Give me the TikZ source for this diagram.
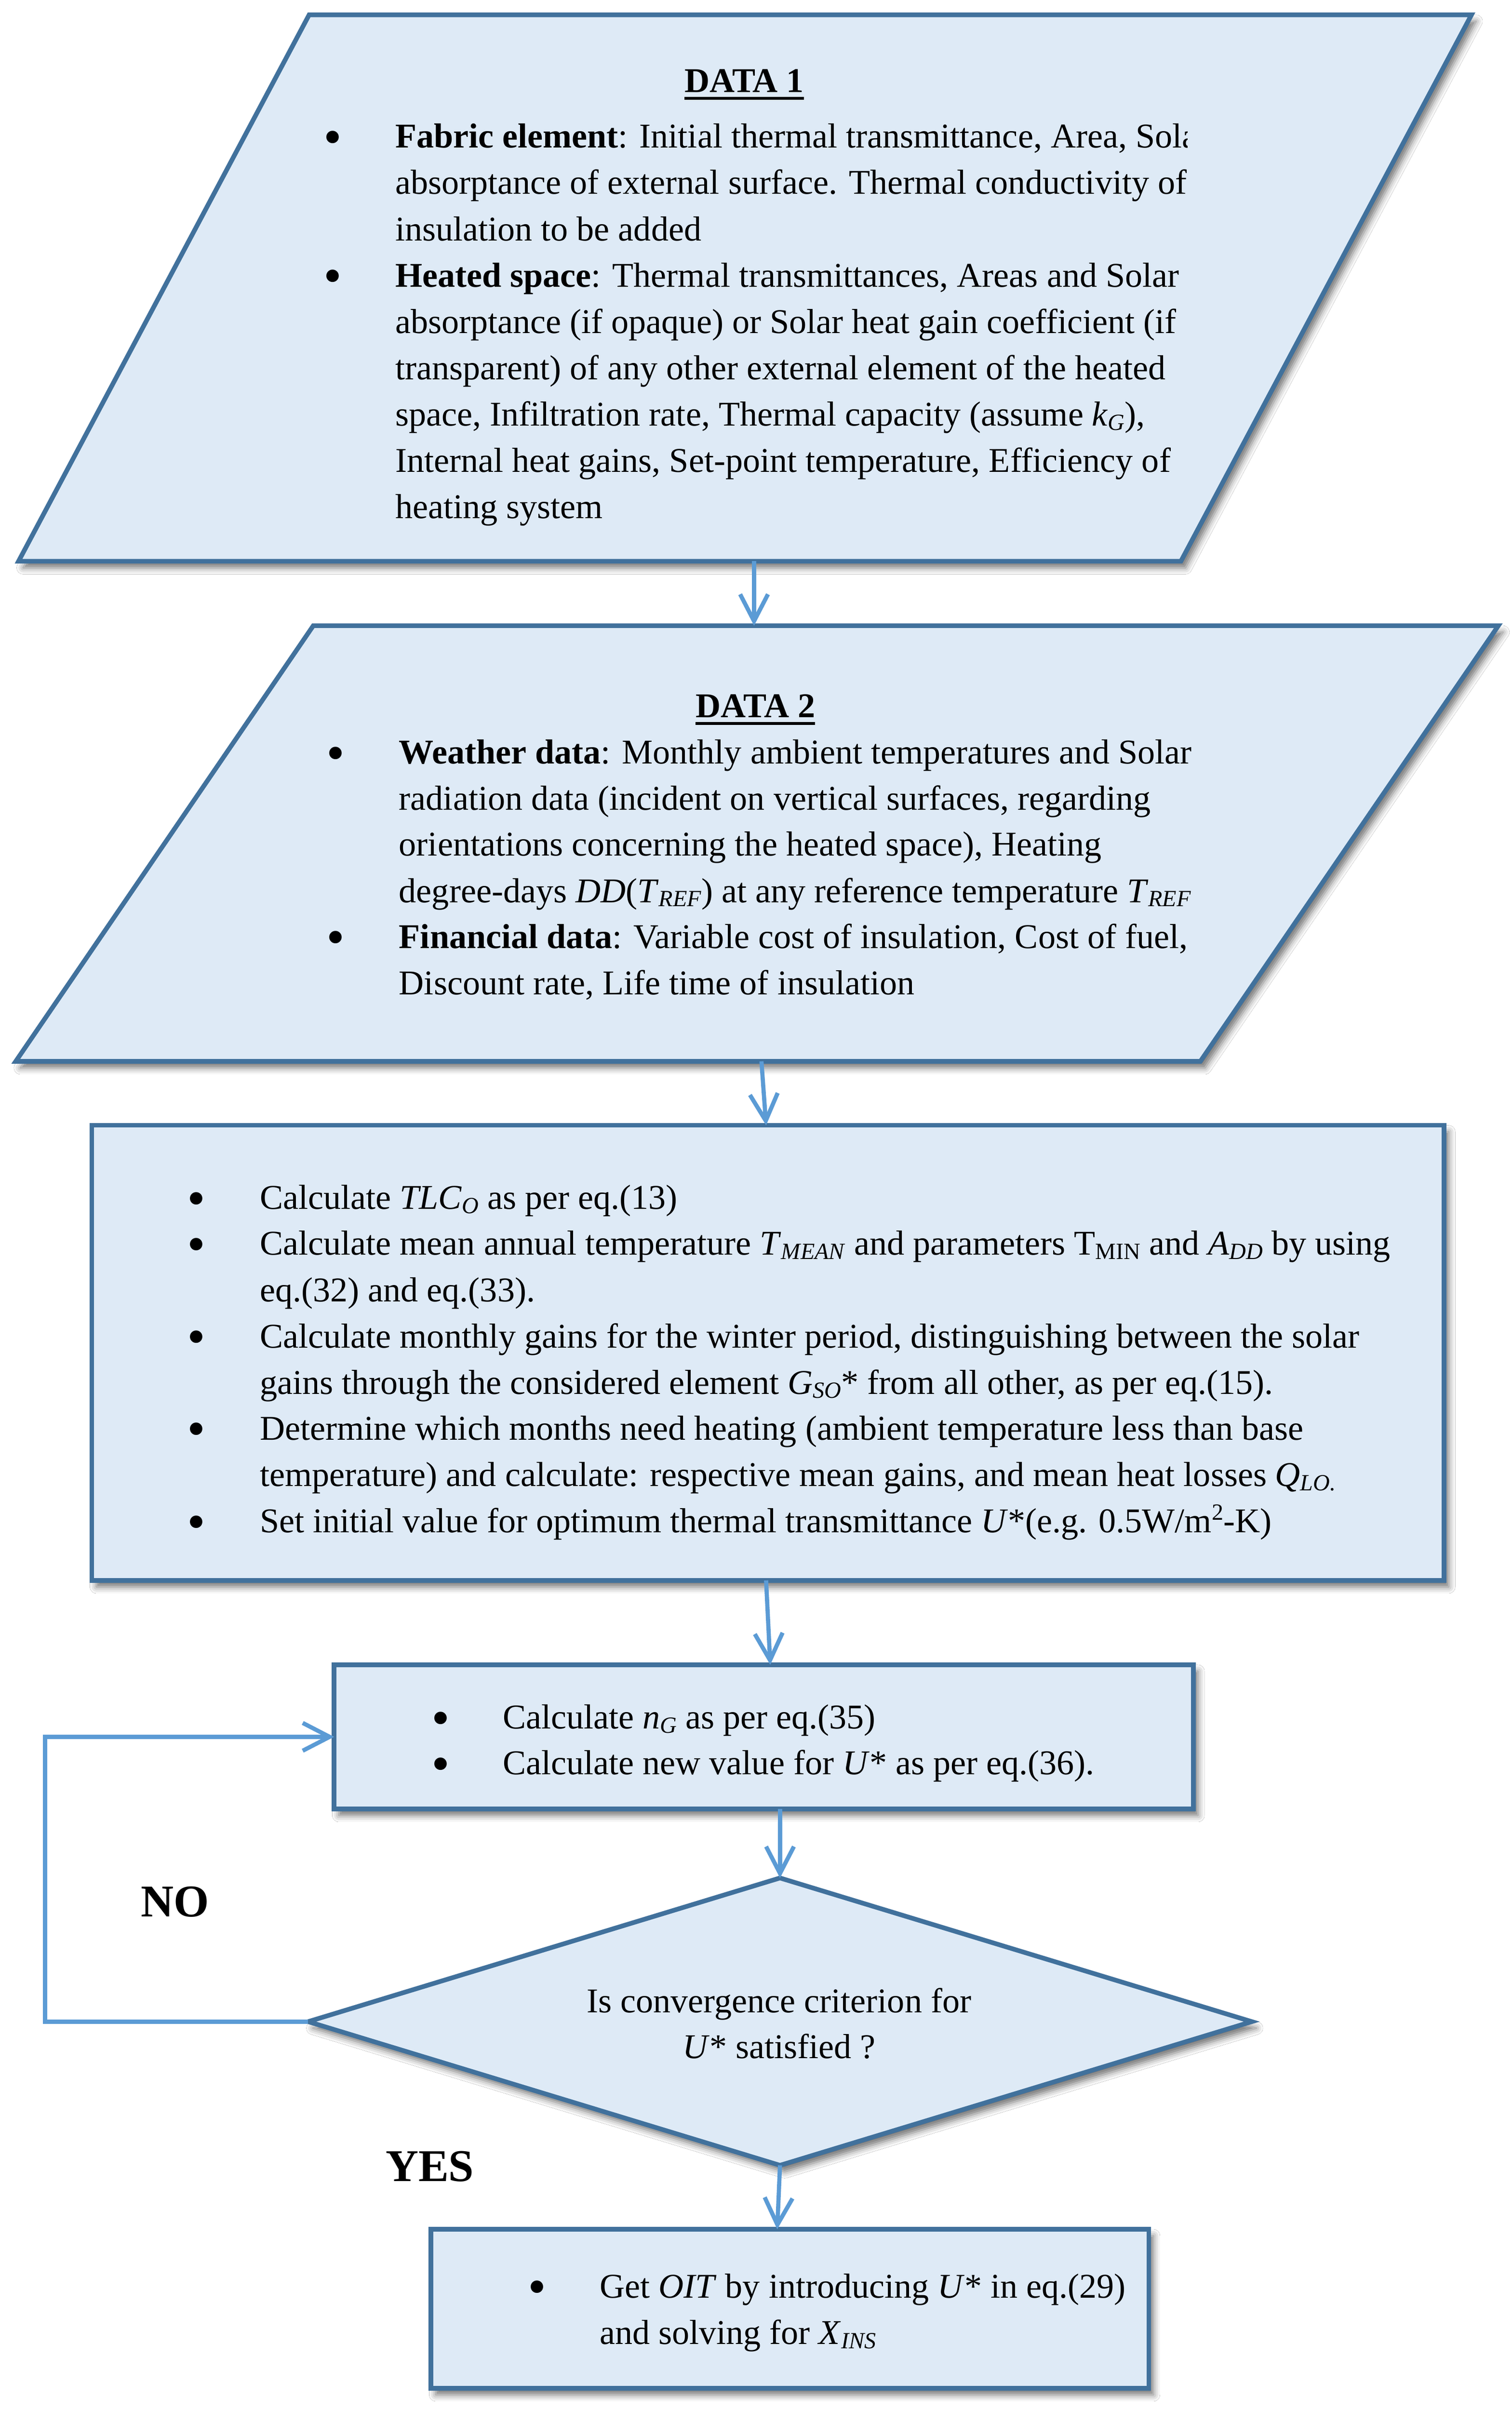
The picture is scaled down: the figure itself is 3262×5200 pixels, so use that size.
\documentclass[tikz,border=0pt]{standalone}
\usepackage{fontspec}
\setmainfont{Liberation Serif}
\usetikzlibrary{arrows.meta,shapes.geometric,shadows.blur}
\definecolor{boxfill}{HTML}{DEEAF6}
\definecolor{boxline}{HTML}{41719C}
\definecolor{arrowc}{HTML}{5B9BD5}
\newcommand\fs{\fontsize{18.75pt}{25pt}\selectfont}
\newcommand\sbs[1]{\raisebox{-0.12em}{\fontsize{12.5pt}{14pt}\selectfont #1}}
\newcommand\sps[1]{\raisebox{0.36em}{\fontsize{12.5pt}{14pt}\selectfont #1}}
\newcommand\thul[1]{\vtop{\hbox{#1}\kern2.4pt\hrule height1.7pt}}
\newcommand\bul{\smash{\raisebox{-3.5pt}{\scalebox{1.5}{\textbullet}}}}
\begin{document}
\begin{tikzpicture}[x=0.25pt,y=-0.25pt,
  every node/.style={font=\fs, inner sep=0pt, outer sep=0pt},
  shp/.style={draw=boxline, fill=boxfill, line width=2.5pt,
    blur shadow={shadow xshift=2.5pt, shadow yshift=-3.5pt, shadow blur radius=3.5pt, shadow opacity=55}},
  boxn/.style={shp, rectangle},
  diam/.style={shp, diamond},
  arr/.style={draw=arrowc, line width=2.25pt, -{Straight Barb[length=14.5pt,width=15pt]}},
  txt/.style={anchor=base west},
  bulnode/.style={anchor=base},
  lbl/.style={anchor=base west, font=\fontsize{24.5pt}{29pt}\selectfont\bfseries}]
\fill[white] (0,0) rectangle (3262,5200);
\useasboundingbox (0,0) rectangle (3262,5200);

% ---------- DATA 1 ----------
\path[shp] (667,32) -- (3175,32) -- (2548,1211) -- (40,1211) -- cycle;
\coordinate (p1s) at (1627,1211);
\node[anchor=base] (d1t) at (1606,199) {\thul{\bfseries DATA 1}};
\begin{scope}
\clip (0,0) rectangle (2562,1211);
\node[bulnode] (d1b1) at (718,319) {\bul};
\node[bulnode] (d1b2) at (718,619) {\bul};
\node[txt] (d1l1) at (853,319) {\textbf{Fabric element}: Initial thermal transmittance, Area, Solar};
\node[txt] (d1l2) at (853,419) {absorptance of external surface. Thermal conductivity of};
\node[txt] (d1l3) at (853,519) {insulation to be added};
\node[txt] (d1l4) at (853,619) {\textbf{Heated space}: Thermal transmittances, Areas and Solar};
\node[txt] (d1l5) at (853,719) {absorptance (if opaque) or Solar heat gain coefficient (if};
\node[txt] (d1l6) at (853,819) {transparent) of any other external element of the heated};
\node[txt] (d1l7) at (853,919) {space, Infiltration rate, Thermal capacity (assume \textit{k}\sbs{\textit{G}}),};
\node[txt] (d1l8) at (853,1019) {Internal heat gains, Set-point temperature, Efficiency of};
\node[txt] (d1l9) at (853,1119) {heating system};
\end{scope}

% ---------- DATA 2 ----------
\path[shp] (676,1350) -- (3233,1350) -- (2590,2290) -- (34,2290) -- cycle;
\coordinate (p2n) at (1627,1350);
\coordinate (p2s) at (1643,2290);
\node[anchor=base] (d2t) at (1630,1548) {\thul{\bfseries DATA 2}};
\begin{scope}
\clip (0,1300) rectangle (2575,2290);
\node[bulnode] (d2b1) at (724,1648) {\bul};
\node[bulnode] (d2b2) at (724,2046) {\bul};
\node[txt] (d2l1) at (861,1648) {\textbf{Weather data}: Monthly ambient temperatures and Solar};
\node[txt] (d2l2) at (861,1748) {radiation data (incident on vertical surfaces, regarding};
\node[txt] (d2l3) at (861,1847) {orientations concerning the heated space), Heating};
\node[txt] (d2l4) at (861,1947) {degree-days \textit{DD}(\textit{T}\sbs{\textit{REF}}) at any reference temperature \textit{T}\sbs{\textit{REF}}};
\node[txt] (d2l5) at (861,2046) {\textbf{Financial data}: Variable cost of insulation, Cost of fuel,};
\node[txt] (d2l6) at (861,2146) {Discount rate, Life time of insulation};
\end{scope}

% ---------- Box 1 ----------
\node[boxn, minimum width=729.5pt, minimum height=245.5pt] (r1) at (1657,2919) {};
\node[bulnode] (r1b1) at (424,2609) {\bul};
\node[bulnode] (r1b2) at (424,2708) {\bul};
\node[bulnode] (r1b3) at (424,2908) {\bul};
\node[bulnode] (r1b4) at (424,3107) {\bul};
\node[bulnode] (r1b5) at (424,3307) {\bul};
\node[txt] (r1l1) at (561,2609) {Calculate \textit{TLC}\sbs{\textit{O}} as per eq.(13)};
\node[txt] (r1l2) at (561,2708) {Calculate mean annual temperature \textit{T}\sbs{\textit{MEAN}} and parameters T\sbs{MIN} and \textit{A}\sbs{\textit{DD}} by using};
\node[txt] (r1l3) at (561,2808) {eq.(32) and eq.(33).};
\node[txt] (r1l4) at (561,2908) {Calculate monthly gains for the winter period, distinguishing between the solar};
\node[txt] (r1l5) at (561,3008) {gains through the considered element \textit{G}\sbs{\textit{SO}}* from all other, as per eq.(15).};
\node[txt] (r1l6) at (561,3107) {Determine which months need heating (ambient temperature less than base};
\node[txt] (r1l7) at (561,3207) {temperature) and calculate: respective mean gains, and mean heat losses \textit{Q}\sbs{\textit{LO.}}};
\node[txt] (r1l8) at (561,3307) {Set initial value for optimum thermal transmittance \textit{U}*(e.g. 0.5W/m\sps{2}-K)};

% ---------- Box 2 ----------
\node[boxn, minimum width=463.5pt, minimum height=77.75pt] (r2) at (1648,3747.5) {};
\node[bulnode] (r2b1) at (951,3730) {\bul};
\node[bulnode] (r2b2) at (951,3829) {\bul};
\node[txt] (r2l1) at (1085,3730) {Calculate \textit{n}\sbs{\textit{G}} as per eq.(35)};
\node[txt] (r2l2) at (1085,3829) {Calculate new value for \textit{U}* as per eq.(36).};

% ---------- Decision ----------
\node[diam, minimum width=509pt, minimum height=155pt] (dm) at (1683,4362) {};
\node[anchor=base] (dml1) at (1681,4342) {Is convergence criterion for};
\node[anchor=base] (dml2) at (1681,4441) {\textit{U}* satisfied ?};

% ---------- Final box ----------
\node[boxn, minimum width=387.25pt, minimum height=85.75pt] (fin) at (1704.5,4981.5) {};
\node[bulnode] (fb1) at (1159,4958) {\bul};
\node[txt] (fl1) at (1294,4958) {Get \textit{OIT} by introducing \textit{U}* in eq.(29)};
\node[txt] (fl2) at (1294,5058) {and solving for \textit{X}\sbs{\textit{INS}}};

% ---------- Labels ----------
\node[lbl] (no) at (304,4136) {NO};
\node[lbl] (yes) at (832,4706) {YES};

% ---------- Connectors ----------
\draw[arr] (p1s) -- (p2n);
\draw[arr] (p2s) -- (r1.north -| 1653,0);
\draw[arr] (r1.south -| 1653,0) -- (r2.north -| 1662,0);
\draw[arr] (r2.south -| 1683,0) -- (dm.north);
\draw[arr] (dm.south) -- (fin.north -| 1677,0);
\draw[arr] (dm.west) -- (dm.west -| 97,0) |- (r2.west);
\end{tikzpicture}
\end{document}
